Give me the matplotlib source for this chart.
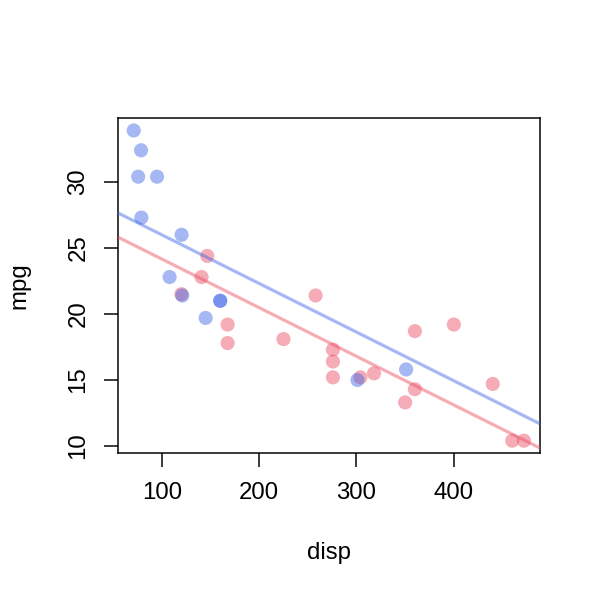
import numpy as np
import matplotlib
matplotlib.use("Agg")
import matplotlib.pyplot as plt

plt.rcParams['font.family'] = ['Liberation Sans', 'DejaVu Sans']

# mtcars: displacement, mpg, transmission (1 = manual, 0 = automatic)
disp = [160, 160, 108, 258, 360, 225, 360, 146.7, 140.8, 167.6, 167.6, 275.8,
        275.8, 275.8, 472, 460, 440, 78.7, 75.7, 71.1, 120.1, 318, 304, 350,
        400, 79, 120.3, 95.1, 351, 145, 301, 121]
mpg = [21.0, 21.0, 22.8, 21.4, 18.7, 18.1, 14.3, 24.4, 22.8, 19.2, 17.8, 16.4,
       17.3, 15.2, 10.4, 10.4, 14.7, 32.4, 30.4, 33.9, 21.5, 15.5, 15.2, 13.3,
       19.2, 27.3, 26.0, 30.4, 15.8, 19.7, 15.0, 21.4]
am = [1, 1, 1, 0, 0, 0, 0, 0, 0, 0, 0, 0, 0, 0, 0, 0, 0, 1, 1, 1, 0, 0, 0, 0,
      0, 1, 1, 1, 1, 1, 1, 1]
x_ticks = [100, 200, 300, 400]
y_ticks = [10, 15, 20, 25, 30]

blue = (65/255, 105/255, 230/255, 0.47)
red = (235/255, 80/255, 100/255, 0.47)

x = np.array(disp, float)
y = np.array(mpg, float)
g = np.array(am)

# parallel-slopes fit: mpg ~ disp + am
X = np.column_stack([np.ones_like(x), x, g])
coef, *_ = np.linalg.lstsq(X, y, rcond=None)

W = H = 600
dpi = 144
fig = plt.figure(figsize=(W / dpi, H / dpi), dpi=dpi)
line = 28.8
l, b, t, r = 4.1 * line, 5.1 * line, 4.1 * line, 2.1 * line
ax = fig.add_axes([l / W, b / H, (W - l - r) / W, (H - b - t) / H])

cols = [blue if a == 1 else red for a in g]
ax.scatter(x, y, s=50, c=cols, edgecolors='none', zorder=2)

dx = (x.max() - x.min()) * 0.04
dy = (y.max() - y.min()) * 0.04
xlim = (x.min() - dx, x.max() + dx)
ylim = (y.min() - dy, y.max() + dy)
xx = np.array([xlim[0] - 50, xlim[1] + 50])
ax.plot(xx, coef[0] + coef[1] * xx, color=red, lw=1.6, zorder=3, solid_capstyle='butt')
ax.plot(xx, coef[0] + coef[2] + coef[1] * xx, color=blue, lw=1.6, zorder=3, solid_capstyle='butt')
ax.set_xlim(*xlim)
ax.set_ylim(*ylim)

ax.set_xticks(x_ticks)
ax.set_yticks(y_ticks)
ax.set_xticklabels([str(v) for v in x_ticks])
ax.set_yticklabels([str(v) for v in y_ticks], rotation=90, va='center')
ax.tick_params(direction='out', length=7.2, width=0.75, labelsize=12, pad=7.2, color='black')
for s in ax.spines.values():
    s.set_linewidth(0.75)
    s.set_color('black')

fig.text((l + (W - l - r) / 2) / W, 1 - 553 / H, 'disp', ha='center', va='center', fontsize=12)
fig.text(19 / W, 1 - (t + (H - b - t) / 2) / H, 'mpg', ha='center', va='center',
         rotation=90, fontsize=12)

fig.savefig('out.png', dpi=dpi)
